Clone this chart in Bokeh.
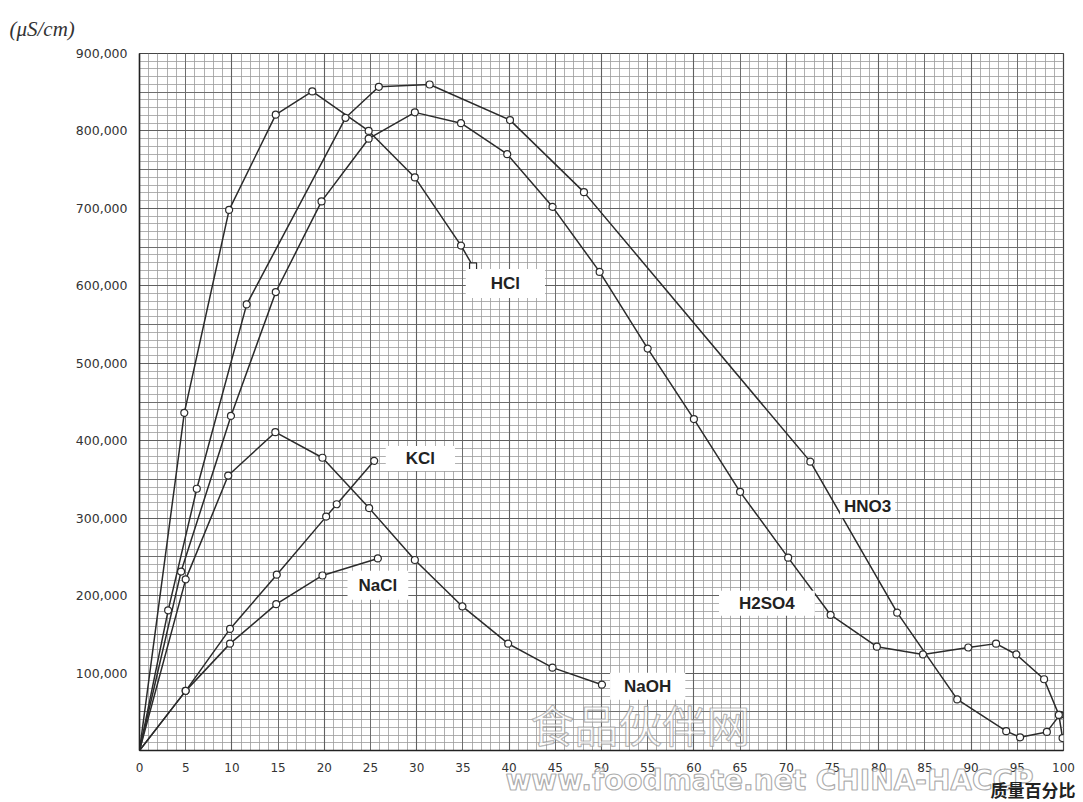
from bokeh.plotting import figure
from bokeh.models import Range1d, FixedTicker, Grid, Label, NumeralTickFormatter, Title
from bokeh.embed import file_html
from bokeh.resources import INLINE

# ---- data (mass percent vs conductivity, uS/cm) ----
x_ticks = list(range(0, 101, 5))
y_ticks = [100000, 200000, 300000, 400000, 500000, 600000, 700000, 800000, 900000]

hcl_x = [0, 4.85, 9.7, 14.75, 18.7, 24.8, 29.8, 34.8, 36.1]
hcl_y = [0, 436000, 698000, 821000, 851000, 800000, 740000, 652000, 625000]

hno3_x = [0, 3.1, 6.2, 11.6, 22.3, 25.9, 31.4, 40.1, 48.1, 72.6, 82.0, 88.5, 93.8, 95.3, 98.2, 99.6]
hno3_y = [0, 181000, 338000, 576000, 817000, 857000, 860000, 814000, 721000, 373000, 178000,
          66000, 25000, 17000, 24000, 46000]

h2so4_x = [0, 4.5, 9.9, 14.75, 19.7, 24.8, 29.8, 34.8, 39.8, 44.7, 49.8, 55.0, 60.0, 65.0, 70.2,
           74.8, 79.8, 84.8, 89.7, 92.7, 94.9, 97.9, 99.5, 99.9]
h2so4_y = [0, 231000, 432000, 592000, 709000, 790000, 824000, 810000, 770000, 702000, 618000,
           519000, 428000, 334000, 249000, 175000, 134000, 124000, 133000, 138000, 124000,
           92000, 46000, 16000]

naoh_x = [0, 5.0, 9.6, 14.7, 19.8, 24.85, 29.8, 34.95, 39.9, 44.7, 50.05]
naoh_y = [0, 221000, 355000, 411000, 378000, 313000, 246000, 186000, 138000, 107000, 85000]

kcl_x = [0, 5.0, 9.8, 14.86, 20.2, 21.35, 25.4]
kcl_y = [0, 77000, 157000, 227000, 302000, 318000, 374000]

nacl_x = [0, 5.0, 9.8, 14.8, 19.8, 25.8]
nacl_y = [0, 77000, 138000, 189000, 226000, 248000]

# ---- figure ----
p = figure(width=1083, height=802, output_backend="svg", toolbar_location=None,
           x_range=Range1d(0, 100), y_range=Range1d(0, 900000),
           min_border_left=139, min_border_top=53, min_border_right=20, min_border_bottom=52)
p.background_fill_color = "white"
p.border_fill_color = "white"
p.outline_line_color = "#444444"
p.outline_line_width = 1.2
p.xgrid.visible = False
p.ygrid.visible = False

# graph-paper grid
minor_x = [v for v in range(0, 101) if v % 5 != 0]
minor_y = [v for v in range(0, 900001, 10000) if v % 50000 != 0]
mid_x = [v for v in range(0, 101, 5) if v % 10 != 0]
mid_y = [v for v in range(0, 900001, 50000) if v % 100000 != 0]
maj_x = list(range(0, 101, 10))
maj_y = list(range(0, 900001, 100000))
for dim, ticks, col, w in [(0, minor_x, "#9c9c9c", 0.8), (1, minor_y, "#9c9c9c", 0.8),
                           (0, mid_x, "#6e6e6e", 1.0), (1, mid_y, "#6e6e6e", 1.0),
                           (0, maj_x, "#606060", 1.1), (1, maj_y, "#606060", 1.1)]:
    p.add_layout(Grid(dimension=dim, ticker=FixedTicker(ticks=ticks),
                      grid_line_color=col, grid_line_width=w))

# axes
for ax in (p.xaxis, p.yaxis):
    ax.major_tick_line_color = None
    ax.minor_tick_line_color = None
    ax.axis_line_color = "#222222"
    ax.axis_line_width = 1.5
    ax.major_label_text_font = "DejaVu Sans"
    ax.major_label_text_font_size = "12.5px"
    ax.major_label_text_color = "#333333"
p.xaxis.major_label_text_font_size = "12px"
p.xaxis.ticker = FixedTicker(ticks=x_ticks)
p.yaxis.ticker = FixedTicker(ticks=y_ticks)
p.yaxis.formatter = NumeralTickFormatter(format="0,0")
p.xaxis.major_label_standoff = 6
p.yaxis.major_label_standoff = 6

line_col = "#2b2b2b"
series = [(hcl_x, hcl_y), (hno3_x, hno3_y), (h2so4_x, h2so4_y),
          (naoh_x, naoh_y), (kcl_x, kcl_y), (nacl_x, nacl_y)]
for xs, ys in series:
    p.line(xs, ys, line_color=line_col, line_width=1.5)

for xs, ys in series[1:]:
    p.scatter(xs[1:], ys[1:], marker="circle", size=7, line_color=line_col,
              line_width=1.2, fill_color="white")
p.scatter(hcl_x[1:-1], hcl_y[1:-1], marker="circle", size=7, line_color=line_col,
          line_width=1.2, fill_color="white")
p.scatter(hcl_x[-1:], hcl_y[-1:], marker="square", size=7, line_color=line_col,
          line_width=1.2, fill_color="white")

# series labels with white boxes
for txt, lx, ly, pad in [("HCl", 39.6, 603000, (25, 5)), ("KCl", 30.4, 377000, (20, 3)),
                         ("NaCl", 25.8, 213500, (11, 5)), ("NaOH", 55.0, 83000, (14, 4)),
                         ("H2SO4", 67.9, 190000, (20, 3)), ("HNO3", 78.8, 315000, (4, 2))]:
    p.add_layout(Label(x=lx, y=ly, text=txt, text_align="center", text_baseline="middle",
                       text_font="Liberation Sans", text_font_style="bold",
                       text_font_size="17px", text_color="#222222",
                       background_fill_color="white", padding=pad))

# unit labels
p.add_layout(Title(text="(\u03bcS/cm)", align="left", offset=-130, standoff=26,
                   text_font="Liberation Serif", text_font_style="italic",
                   text_font_size="21px", text_color="#333333"), "above")

wm_kw = dict(text_color="white", text_alpha=0.7)
try:
    Title(text="x", text_outline_color="#8a8a8a")
    wm_kw["text_outline_color"] = "#8a8a8a"
except Exception:
    wm_kw = dict(text_color="#c4c4c4", text_alpha=1.0)

p.add_layout(Title(text="www.foodmate.net\u00a0CHINA-HACCP", align="left", offset=366,
                   standoff=-26, text_font="DejaVu Sans", text_font_style="bold",
                   text_font_size="28px", **wm_kw), "below")
p.add_layout(Title(text="质量百分比", align="right", offset=-12, standoff=-17,
                   text_font="Noto Sans CJK SC", text_font_style="bold",
                   text_font_size="17px", text_color="#222222"), "below")

# watermark inside the frame
p.add_layout(Label(x=54.2, y=34000, text="食品伙伴网", text_align="center",
                   text_baseline="middle", text_font="Noto Sans CJK SC",
                   text_font_size="44px", text_color="white", text_alpha=0.6,
                   text_outline_color="#8a8a8a"))

open("out.html", "w").write(file_html(p, INLINE))
